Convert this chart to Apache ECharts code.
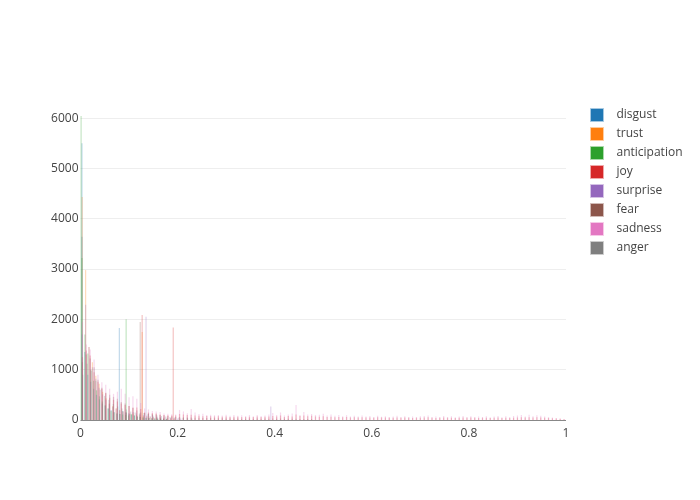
<!DOCTYPE html>
<html>
<head>
<meta charset="utf-8">
<style>
  html, body { margin: 0; padding: 0; background: #fff; }
  #chart { width: 700px; height: 500px; }
</style>
<script src="https://cdn.jsdelivr.net/npm/echarts@6/dist/echarts.min.js"></script>
</head>
<body>
<div id="chart"></div>
<script>
const seriesNames = ['disgust', 'trust', 'anticipation', 'joy', 'surprise', 'fear', 'sadness', 'anger'];
const seriesColors = ['#1f77b4', '#ff7f0e', '#2ca02c', '#d62728', '#9467bd', '#8c564b', '#e377c2', '#7f7f7f'];
const legendBorders = ['#a5c8e1', '#ffcc9f', '#abd9ab', '#efa9a9', '#d4c2e5', '#d1bbb7', '#f6c9e7', '#cccccc'];

const yTicks = [0, 1000, 2000, 3000, 4000, 5000, 6000];
const xTickLabels = { 0: '0', 0.2: '0.2', 0.4: '0.4', 0.6: '0.6', 0.8: '0.8', 1: '1' };

// every series has its own histogram bins, as the plot was auto binned per trace
const binWidths = [0.006, 0.007, 0.006, 0.008, 0.007, 0.008, 0.008, 0.009];

const disgust = [3640, 1350, 900, 760, 620, 500, 410, 330, 280, 230, 200, 160, 130, 120, 180, 150, 130, 100, 90, 70, 60, 50, 45, 40, 35, 30, 30, 25, 25, 20];
const trust = [4430, 2980, 1450, 1150, 880, 720, 560, 430, 330, 280, 240, 200, 170, 150, 120, 130, 100, 90, 80, 70, 60, 50, 45, 40, 35, 30, 30, 25];
const anticipation = [3220, 1700, 1320, 1000, 780, 590, 470, 370, 300, 230, 180, 150, 130, 120, 110, 100, 90, 120, 90, 70, 60, 50, 40, 40, 35, 30, 25, 25, 20, 20];
const joy = [1250, 1380, 1280, 950, 760, 620, 530, 440, 400, 370, 330, 300, 280, 250, 250, 220, 150, 150, 140, 130, 110, 100, 95, 90, 90, 120,
  110, 100, 105, 90, 85, 75, 80, 75, 70, 75, 65, 70, 60, 65, 65, 60, 60, 65, 60, 70, 60, 65, 70, 80, 70, 90, 60, 80, 70, 110, 80, 90, 75, 85,
  70, 65, 75, 60, 65, 55, 60, 55, 60, 50, 55, 50, 55, 50, 50, 45, 55, 50, 50, 45, 45, 50, 45, 50, 45, 40, 45, 45, 50, 55, 45, 40, 45, 50, 45,
  45, 40, 45, 50, 45, 50, 45, 40, 45, 45, 40, 45, 50, 40, 45, 40, 45, 50, 55, 50, 55, 50, 55, 50, 45, 40, 35, 30, 25, 15];
const surprise = [1700, 2290, 1450, 1050, 820, 640, 510, 400, 320, 260, 220, 190, 170, 150, 130, 160, 130, 110, 100, 90, 80, 70, 60, 60, 50, 45, 40, 35, 30, 30];
const fear = [1150, 1300, 1220, 1050, 800, 640, 540, 500, 460, 420, 360, 330, 280, 240, 190, 150, 140, 130, 120, 110, 100, 90, 80, 70, 60, 60,
  55, 50, 50, 45, 45, 40, 40, 40, 35, 35, 35, 30, 30, 30, 30, 25, 25, 30, 25, 30, 25, 30, 25, 30, 25, 30, 25, 25, 25, 25, 20, 20, 20, 20];
const sadness = [1950, 1500, 1400, 1200, 900, 750, 700, 620, 520, 560, 620, 520, 450, 470, 420, 340, 230, 210, 180, 170, 160, 130, 125, 115, 110, 200,
  170, 135, 220, 150, 120, 125, 100, 105, 95, 100, 90, 105, 85, 100, 85, 95, 80, 100, 75, 100, 80, 90, 110, 140, 100, 150, 90, 110, 130, 300, 100, 160, 110, 120,
  100, 105, 125, 90, 110, 85, 100, 75, 95, 70, 85, 70, 90, 70, 80, 60, 85, 65, 75, 60, 70, 85, 60, 75, 60, 70, 60, 75, 80, 90, 60, 70, 60, 80, 60,
  75, 55, 70, 80, 60, 75, 60, 70, 60, 75, 55, 70, 80, 55, 75, 60, 80, 90, 100, 70, 105, 75, 95, 85, 70, 60, 50, 40, 30, 20];
const anger = [900, 1120, 980, 780, 600, 480, 400, 320, 270, 230, 210, 170, 150, 130, 140, 120, 100, 90, 80, 70, 60, 50, 45, 40, 35, 30];
const seriesValues = [disgust, trust, anticipation, joy, surprise, fear, sadness, anger];

// narrow spikes standing apart from the bins, as [x, count]
const disgustSpikes = [[0.003, 5500], [0.08, 1830]];
const trustSpikes = [[0.127, 1750]];
const anticipationSpikes = [[0.0012, 6040], [0.094, 2000]];
const joySpikes = [[0.127, 2085], [0.191, 1840]];
const surpriseSpikes = [[0.135, 2050], [0.392, 270]];
const fearSpikes = [[0.123, 1950]];
const sadnessSpikes = [];
const angerSpikes = [];
const seriesSpikes = [disgustSpikes, trustSpikes, anticipationSpikes, joySpikes, surpriseSpikes, fearSpikes, sadnessSpikes, angerSpikes];

const font = '"Open Sans", "Noto Sans", sans-serif';

const chart = echarts.init(document.getElementById('chart'), null, { renderer: 'canvas' });

chart.setOption({
  animation: false,
  backgroundColor: '#fff',
  grid: { left: 80.5, right: 134, top: 100, bottom: 80 },
  legend: {
    orient: 'vertical',
    left: 585,
    top: 103,
    itemWidth: 13,
    itemHeight: 13,
    itemGap: 5,
    icon: 'rect',
    selectedMode: false,
    textStyle: { fontFamily: font, fontSize: 12, color: '#444', padding: [2, 0, 0, 8] },
    data: seriesNames.map((name, i) => ({
      name,
      itemStyle: { color: seriesColors[i], opacity: 1, borderColor: legendBorders[i], borderWidth: 1 }
    }))
  },
  xAxis: {
    type: 'value',
    min: 0,
    max: 1,
    interval: 0.2,
    axisLine: { show: false },
    axisTick: { show: false },
    splitLine: { show: false },
    axisLabel: {
      fontFamily: font, fontSize: 12, color: '#444', margin: 8,
      formatter: v => xTickLabels[v]
    }
  },
  yAxis: {
    type: 'value',
    min: 0,
    max: 6360,
    interval: yTicks[1],
    axisLine: { show: false },
    axisTick: { show: false },
    splitLine: { show: true, showMaxLine: false, lineStyle: { color: '#eee', width: 1 } },
    axisLabel: { fontFamily: font, fontSize: 12, color: '#444', margin: 2, showMaxLabel: false, formatter: v => String(v) }
  },
  series: seriesNames.map((name, i) => ({
    name,
    type: 'bar',
    barWidth: 1.2,
    barGap: '-100%',
    itemStyle: { color: seriesColors[i], opacity: 0.28 },
    markLine: i === 0 ? {
      silent: true,
      symbol: 'none',
      label: { show: false },
      lineStyle: { color: '#444', width: 1, type: 'solid', opacity: 0.6 },
      data: [{ yAxis: 0 }]
    } : undefined,
    data: seriesValues[i].map((v, k) => [(k + 0.5) * binWidths[i], v]).concat(seriesSpikes[i])
  }))
});
</script>
</body>
</html>
